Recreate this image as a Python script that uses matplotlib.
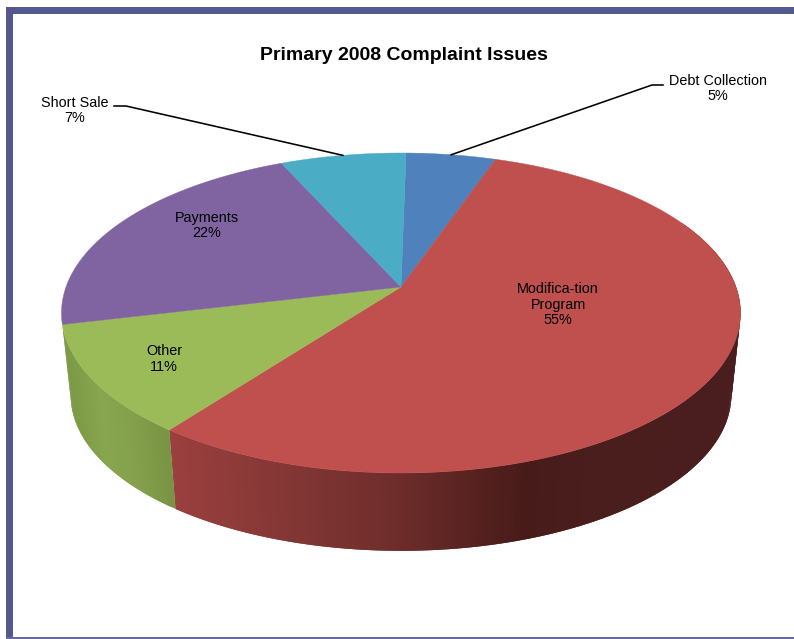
import numpy as np
import matplotlib
matplotlib.use("Agg")
import matplotlib.pyplot as plt
from matplotlib.colors import LinearSegmentedColormap
from matplotlib.patches import Rectangle

# Complaint shares in percent, clockwise from near twelve o'clock
categories = ["Debt Collection", "Modifica-tion\nProgram", "Other", "Payments", "Short Sale"]
shares = [5, 55, 11, 22, 7]
title = "Primary 2008 Complaint Issues"

top_colors = ["#4f81bd", "#c0504d", "#9bbb59", "#8064a2", "#4bacc6"]
frame_color = "#55588c"

plt.rcParams["font.family"] = ["Liberation Sans", "DejaVu Sans"]

W, H = 794, 639
fig = plt.figure(figsize=(W / 100, H / 100), dpi=100, facecolor="white")
ax = fig.add_axes([0, 0, 1, 1])
ax.set_xlim(0, W)
ax.set_ylim(H, 0)
ax.axis("off")

# Perspective of the pie's tilted disc
CX, CY = 401.0, 287.0
BACK, FRONT = 134.0, 186.0
HALF_WIDTH = 339.5
K = (FRONT - BACK) / (FRONT + BACK)
G = BACK * (1 + K)
F = HALF_WIDTH * np.sqrt(1 - K ** 2)
START_ANGLE = 1.0

# Lower rim: the disc scaled toward a distant vanishing point
VP_Y = 3355.0
RIM_SCALE = 0.973


def project(theta_deg):
    t = np.radians(np.asarray(theta_deg, dtype=float))
    u, v = np.sin(t), -np.cos(t)
    den = 1 - K * v
    return CX + F * u / den, CY + G * v / den


def lower(x, y):
    return CX + (x - CX) * RIM_SCALE, VP_Y + (y - VP_Y) * RIM_SCALE


edges = np.concatenate([[0], np.cumsum(shares)]) * 3.6 + START_ANGLE
mids = (edges[:-1] + edges[1:]) / 2

# Side wall shading, varying along the horizontal
red_side = LinearSegmentedColormap.from_list("red_side", [
    (0.00, "#9b403e"), (0.23, "#803634"), (0.40, "#6e2d2b"),
    (0.63, "#471b19"), (0.75, "#4a1e1d"), (1.00, "#4a1e1e")])
green_side = LinearSegmentedColormap.from_list("green_side", [
    (0.00, "#7c9946"), (0.32, "#87a64e"), (0.62, "#84a04c"), (1.00, "#779343")])
side_maps = {1: (red_side, 167, 740), 2: (green_side, 65, 172)}

# Each strip reaches over its neighbour so no seams show through
for idx, (cmap, x0, x1) in side_maps.items():
    start, stop = edges[idx], edges[idx + 1]
    grid = np.linspace(start, stop, int((stop - start) * 1.2) + 2)
    xt, yt = project(grid)
    xb, yb = lower(xt, yt)
    n = len(grid)
    for i in range(n - 1):
        if np.cos(np.radians(grid[i])) > 0.45:
            continue
        j = min(i + 2, n - 1)
        frac = np.clip((0.5 * (xt[i] + xt[i + 1]) - x0) / (x1 - x0), 0, 1)
        ax.fill(np.r_[xt[i:j + 1], xb[i:j + 1][::-1]],
                np.r_[yt[i:j + 1], yb[i:j + 1][::-1]],
                facecolor=cmap(frac), edgecolor="none", lw=0, zorder=1 + idx * 0.1)

# Top face
for start, stop, color in zip(edges[:-1], edges[1:], top_colors):
    grid = np.linspace(start, stop, max(int(stop - start) * 3, 8))
    x, y = project(grid)
    ax.fill(np.r_[CX, x], np.r_[CY, y], facecolor=color, edgecolor=color,
            lw=0.3, zorder=2)

ax.text(404, 55.5, title, fontsize=14, fontweight="bold", ha="center", va="center",
        color="black", zorder=5)

LABEL_SIZE = 10.4
SPACING = 1.13

# Labels inside the pie
inside_pos = {1: (558, 304.5), 2: (164, 359), 3: (207, 225.5)}
for idx, (tx, ty) in inside_pos.items():
    ax.text(tx, ty, f"{categories[idx]}\n{shares[idx]}%", fontsize=LABEL_SIZE, ha="center",
            va="center", color="black", linespacing=SPACING, zorder=5)

# Callout labels with elbow leaders
ax.text(718, 88.5, f"{categories[0]}\n{shares[0]}%", fontsize=LABEL_SIZE, ha="center",
        va="center", linespacing=SPACING, zorder=5)
ax.text(75, 110.5, f"{categories[4]}\n{shares[4]}%", fontsize=LABEL_SIZE, ha="center",
        va="center", linespacing=SPACING, zorder=5)

dx, dy = project(mids[0])
sx, sy = project(mids[4])
ax.plot([dx, 652, 663], [dy, 85, 85], color="black", lw=1.15, zorder=4,
        solid_joinstyle="miter")
ax.plot([sx, 126, 114], [sy, 106, 106], color="black", lw=1.15, zorder=4,
        solid_joinstyle="miter")

# Page frame: heavy top and left, thin bottom
ax.add_patch(Rectangle((6, 7), W - 6, 7, facecolor=frame_color, lw=0, zorder=6))
ax.add_patch(Rectangle((6, 7), 6.5, H - 7, facecolor=frame_color, lw=0, zorder=6))
ax.add_patch(Rectangle((6, 636.5), W - 6, 2.5, facecolor="#686b9e", lw=0, zorder=6))

fig.savefig("out.png", dpi=100, facecolor="white")
